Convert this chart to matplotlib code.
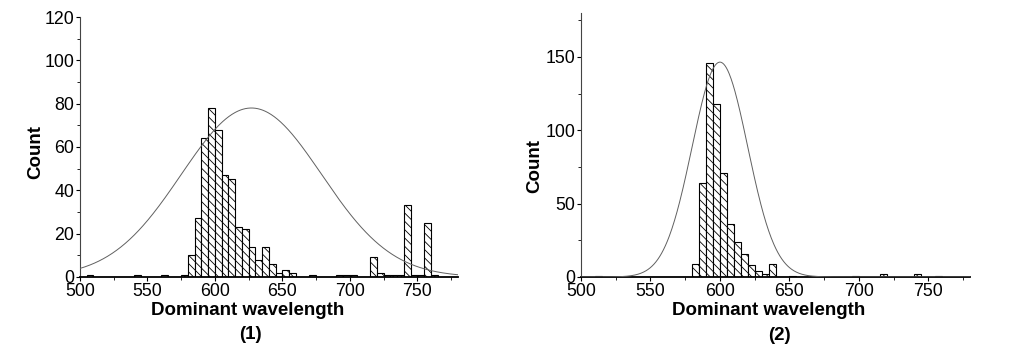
import numpy as np
import matplotlib
matplotlib.use("Agg")
import matplotlib.pyplot as plt
from matplotlib.ticker import MultipleLocator

# ---------------- data ----------------
# Panel (1): histogram bins (left edges, width 5 nm) and counts
bins1 = [505, 540, 560, 575, 580, 585, 590, 595, 600, 605, 610, 615, 620, 625,
         630, 635, 640, 645, 650, 655, 670, 690, 695, 700, 715, 720, 725, 730,
         735, 740, 745, 750, 755, 760]
counts1 = [1, 1, 1, 1, 10, 27, 64, 78, 68, 47, 45, 23, 22, 14,
           8, 14, 6, 2, 3, 2, 1, 1, 1, 1, 9, 2, 1, 1,
           1, 33, 1, 1, 25, 1]
# normal-curve overlay parameters for panel (1)
fit1_mean, fit1_sd, fit1_peak = 627.0, 52.0, 78.0

# Panel (2)
bins2 = [510, 580, 585, 590, 595, 600, 605, 610, 615, 620, 625, 630, 635,
         650, 665, 695, 715, 740, 755]
counts2 = [1, 9, 64, 146, 118, 71, 36, 24, 16, 8, 4, 2, 9,
           1, 1, 1, 2, 2, 1]
fit2_mean, fit2_sd, fit2_peak = 600.0, 20.0, 146.5

bin_width = 5
xlabel = "Dominant wavelength"
ylabel = "Count"
panel_tags = ["(1)", "(2)"]
xlim = (500, 780)
ylims = [(0, 120), (0, 180)]
ymajor = [20, 50]
yminor = [10, 25]

# ---------------- style ----------------
plt.rcParams["font.family"] = ["Liberation Sans", "DejaVu Sans"]
plt.rcParams["hatch.linewidth"] = 0.6
plt.rcParams["hatch.color"] = "black"

fig = plt.figure(figsize=(10.2, 3.52), dpi=100)
axes = [fig.add_axes([0.0784, 0.2131, 0.3706, 0.7386]),
        fig.add_axes([0.5696, 0.2131, 0.3814, 0.7500])]

datasets = [(bins1, counts1, fit1_mean, fit1_sd, fit1_peak),
            (bins2, counts2, fit2_mean, fit2_sd, fit2_peak)]

# label placement (axes fractions)
xlabel_x = [0.444, 0.482]
tag_x = [0.45, 0.51]
ylabel_pos = [(-0.118, 0.48), (-0.118, 0.42)]

for i, (ax, (b, c, mu, sd, pk)) in enumerate(zip(axes, datasets)):
    ax.bar(b, c, width=bin_width, align="edge", facecolor="white",
           edgecolor="black", linewidth=0.8, hatch="\\\\\\\\", zorder=2)
    xs = np.linspace(xlim[0], xlim[1], 600)
    ax.plot(xs, pk * np.exp(-0.5 * ((xs - mu) / sd) ** 2), color="#606060",
            linewidth=0.7, zorder=3)
    ax.set_xlim(*xlim)
    ax.set_ylim(*ylims[i])
    ax.xaxis.set_major_locator(MultipleLocator(50))
    ax.xaxis.set_minor_locator(MultipleLocator(25))
    ax.yaxis.set_major_locator(MultipleLocator(ymajor[i]))
    ax.yaxis.set_minor_locator(MultipleLocator(yminor[i]))
    for s in ("top", "right"):
        ax.spines[s].set_visible(False)
    ax.spines["bottom"].set_linewidth(1.3)
    ax.spines["left"].set_linewidth(0.8)
    ax.spines["left"].set_color("#444444")
    ax.tick_params(axis="both", which="major", direction="out", length=3,
                   width=0.8, labelsize=12.8, pad=1)
    ax.tick_params(axis="both", which="minor", direction="out", length=2,
                   width=0.6)
    ax.set_xlabel(xlabel, fontsize=13.5, fontweight="bold")
    ax.xaxis.set_label_coords(xlabel_x[i], -0.095)
    ax.xaxis.label.set_verticalalignment("top")
    ax.set_ylabel(ylabel, fontsize=13.5, fontweight="bold")
    ax.yaxis.set_label_coords(*ylabel_pos[i])
    ax.yaxis.label.set_verticalalignment("center")
    ax.text(tag_x[i], -0.19, panel_tags[i], transform=ax.transAxes,
            ha="center", va="top", fontsize=13.5, fontweight="bold")

fig.savefig("out.png", dpi=100)
